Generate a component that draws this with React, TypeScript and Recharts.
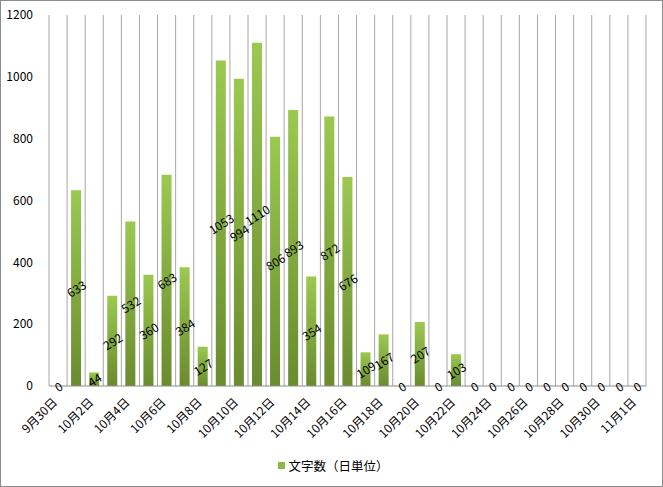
import React from 'react';
import { ComposedChart, Bar, Line, XAxis, YAxis, CartesianGrid, Legend, LabelList } from 'recharts';

const days: string[] = [
  '9月30日', '10月1日', '10月2日', '10月3日', '10月4日', '10月5日', '10月6日', '10月7日', '10月8日',
  '10月9日', '10月10日', '10月11日', '10月12日', '10月13日', '10月14日', '10月15日', '10月16日',
  '10月17日', '10月18日', '10月19日', '10月20日', '10月21日', '10月22日', '10月23日', '10月24日',
  '10月25日', '10月26日', '10月27日', '10月28日', '10月29日', '10月30日', '10月31日', '11月1日',
];

const counts: number[] = [
  0, 633, 44, 292, 532, 360, 683, 384, 127,
  1053, 994, 1110, 806, 893, 354, 872, 676,
  109, 167, 0, 207, 0, 103, 0, 0,
  0, 0, 0, 0, 0, 0, 0, 0,
];

const yTicks: number[] = [0, 200, 400, 600, 800, 1000, 1200];

const seriesName = '文字数（日単位）';

const data = days.map((day, i) => ({ day, count: counts[i] }));

const FONT = '"Noto Sans CJK JP", "Liberation Sans", sans-serif';

const DayTick = (props: any) => {
  const { x, y, payload } = props;
  return (
    <text
      x={x}
      y={y + 9}
      textAnchor="end"
      fontSize={12}
      fontFamily={FONT}
      fill="#000"
      transform={`rotate(-45, ${x}, ${y + 9})`}
    >
      {payload.value}
    </text>
  );
};

// labels sit at the middle of each bar (drawn from an invisible line at half height)
const ValueLabel = (props: any) => {
  const { x, y, value } = props;
  return (
    <text
      x={x}
      y={y}
      textAnchor="middle"
      dominantBaseline="central"
      fontSize={12}
      fontFamily={FONT}
      fill="#000"
      transform={`rotate(-32, ${x}, ${y})`}
    >
      {value}
    </text>
  );
};

const LegendBox = () => (
  <div style={{ height: 20, paddingLeft: 20, display: 'flex', justifyContent: 'center', alignItems: 'center', fontFamily: FONT, fontSize: 12.5, color: '#000' }}>
    <span style={{ display: 'inline-block', width: 7, height: 7, background: '#8DB842', marginRight: 3 }} />
    <span>{seriesName}</span>
  </div>
);

export default function App() {
  return (
    <div style={{ width: 661, height: 485, border: '1px solid #8c8c8c', background: '#fff' }}>
      <style>{'body{margin:0}'}</style>
      <ComposedChart
        width={661}
        height={485}
        data={data}
        margin={{ top: 14, right: 16, left: 0, bottom: 0 }}
        barCategoryGap="22%"
      >
        <defs>
          <linearGradient id="barGreen" x1="0" y1="0" x2="0" y2="1">
            <stop offset="0%" stopColor="#9BC950" />
            <stop offset="100%" stopColor="#6A8B2F" />
          </linearGradient>
        </defs>
        <CartesianGrid
          horizontal={false}
          stroke="#a6a6a6"
          verticalCoordinatesGenerator={({ offset }: any) =>
            days.map((_, i) => offset.left + (i * offset.width) / days.length).concat(offset.left + offset.width)
          }
        />
        <XAxis
          dataKey="day"
          interval={1}
          height={80}
          tickLine={false}
          axisLine={{ stroke: '#8c8c8c' }}
          tick={<DayTick />}
        />
        <YAxis
          domain={[0, 1200]}
          ticks={yTicks}
          width={48}
          axisLine={false}
          tickLine={false}
          tickMargin={10}
          tick={{ fontSize: 12, fontFamily: FONT, fill: '#000' }}
        />
        <Legend verticalAlign="bottom" height={20} wrapperStyle={{ bottom: 11 }} content={<LegendBox />} />
        <Bar dataKey="count" name={seriesName} fill="url(#barGreen)" isAnimationActive={false} />
        <Line
          dataKey={(d: any) => d.count / 2}
          stroke="none"
          dot={false}
          activeDot={false}
          legendType="none"
          isAnimationActive={false}
        >
          <LabelList dataKey="count" content={<ValueLabel />} />
        </Line>
      </ComposedChart>
    </div>
  );
}
